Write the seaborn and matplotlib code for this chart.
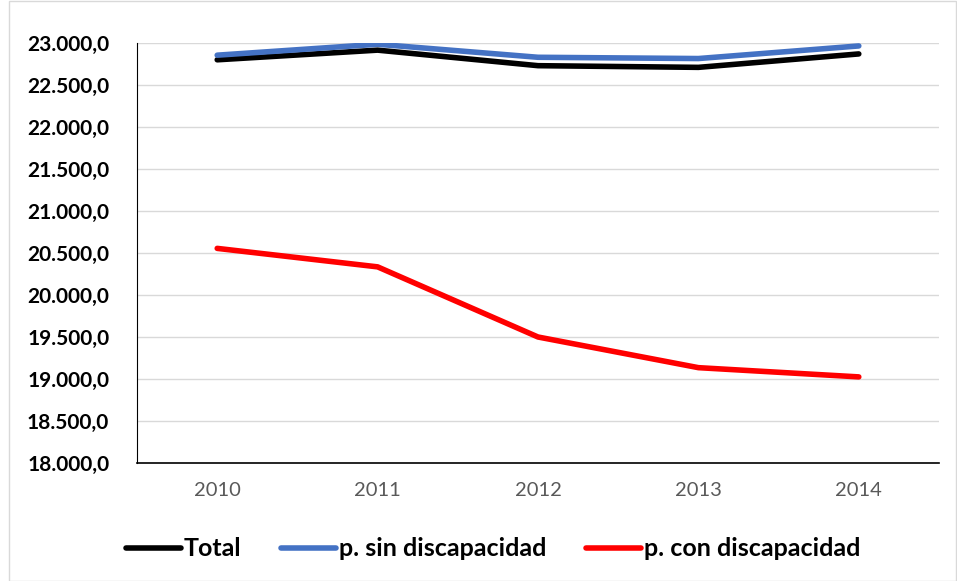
import pandas as pd
import matplotlib.pyplot as plt
import seaborn as sns
from matplotlib.ticker import FuncFormatter

# Data
years = ['2010', '2011', '2012', '2013', '2014']
total = [22800, 22915, 22730, 22710, 22870]
sin_disc = [22855, 22985, 22830, 22815, 22965]
con_disc = [20555, 20335, 19500, 19135, 19025]
series_names = ['Total', 'p. sin discapacidad', 'p. con discapacidad']
colors = ['#000000', '#4472C4', '#FF0000']

df = pd.DataFrame({
    'Año': years * 3,
    'Valor': total + sin_disc + con_disc,
    'Serie': [series_names[0]] * 5 + [series_names[1]] * 5 + [series_names[2]] * 5,
})

sns.set_style('white')
plt.rcParams['font.family'] = ['Lato', 'DejaVu Sans']

fig = plt.figure(figsize=(9.57, 5.81), dpi=100)
ax = fig.add_axes([137 / 957, 1 - 463 / 581, (939 - 137) / 957, (463 - 43) / 581])

sns.lineplot(data=df, x='Año', y='Valor', hue='Serie', hue_order=series_names,
             palette=colors, linewidth=4, ax=ax, sort=False)

ax.set_ylim(18000, 23000)
ax.set_yticks(range(18000, 23001, 500))
ax.yaxis.set_major_formatter(FuncFormatter(
    lambda v, p: f'{v:,.1f}'.replace(',', 'X').replace('.', ',').replace('X', '.')))
ax.set_xlim(-0.5, 4.5)
ax.grid(axis='y', color='#D9D9D9', linewidth=1)
ax.set_axisbelow(True)
ax.set_xlabel('')
ax.set_ylabel('')

for s in ['top', 'right']:
    ax.spines[s].set_visible(False)
ax.spines['left'].set_color('#000000')
ax.spines['left'].set_linewidth(0.8)
ax.spines['bottom'].set_color('#000000')
ax.spines['bottom'].set_linewidth(1.2)

ax.tick_params(axis='y', length=0, pad=20, labelsize=15, labelcolor='black')
ax.tick_params(axis='x', length=0, pad=14, labelsize=14.5, labelcolor='#595959')
for lbl in ax.get_yticklabels():
    lbl.set_fontweight('bold')

handles, labels = ax.get_legend_handles_labels()
leg = ax.legend(handles, labels, loc='center', bbox_to_anchor=(493 / 957, 1 - 549 / 581),
                bbox_transform=fig.transFigure,
                ncol=3, frameon=False, handlelength=2.2, handletextpad=0.1,
                columnspacing=1.6, prop={'weight': 'bold', 'size': 18})
for t in leg.get_texts():
    t.set_color('black')

fig.patches.append(plt.Rectangle((0.009, 0.0), 0.99, 0.999, transform=fig.transFigure,
                                 fill=False, edgecolor='#D9D9D9', linewidth=1))

fig.savefig('out.png', dpi=100)
